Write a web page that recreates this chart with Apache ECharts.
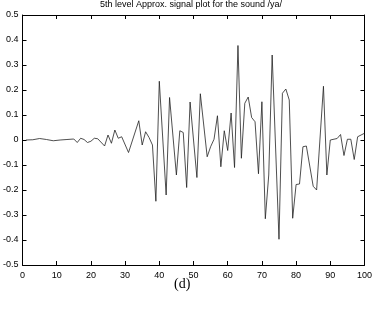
<!DOCTYPE html>
<html>
<head>
<meta charset="utf-8">
<script src="https://cdn.jsdelivr.net/npm/echarts@6/dist/echarts.min.js"></script>
<style>html,body{margin:0;padding:0;background:#fff;}#c{width:375px;height:318px;}</style>
</head>
<body>
<div id="c"></div>
<script>
const titleText = "5th level Approx. signal plot for the sound /ya/";
const captionText = "(d)";
const xTicks = [0, 10, 20, 30, 40, 50, 60, 70, 80, 90, 100];
const yTicks = [-0.5, -0.4, -0.3, -0.2, -0.1, 0, 0.1, 0.2, 0.3, 0.4, 0.5];
const sampleX = [1, 3, 5, 7, 9, 11, 13, 15, 16, 17, 18, 19, 20, 21, 22, 24, 25, 26, 27, 28, 29, 31, 34, 35, 36, 37, 38, 39, 40, 42, 43, 45, 46, 47, 48, 49, 51, 52, 54, 55, 56, 57, 58, 59, 60, 61, 62, 63, 64, 65, 66, 67, 68, 69, 70, 71, 72, 73, 75, 76, 77, 78, 79, 80, 81, 82, 83, 85, 86, 88, 89, 90, 92, 93, 94, 95, 96, 97, 98, 99, 100];
const sampleY = [0, 0.001, 0.006, 0.002, -0.003, 0, 0.002, 0.004, -0.01, 0.007, 0.002, -0.01, -0.005, 0.007, 0.005, -0.024, 0.02, -0.013, 0.04, 0.007, 0.013, -0.05, 0.077, -0.02, 0.033, 0.01, -0.02, -0.245, 0.235, -0.22, 0.17, -0.14, 0.037, 0.03, -0.19, 0.152, -0.15, 0.185, -0.067, -0.027, 0.003, 0.097, -0.107, 0.037, -0.042, 0.108, -0.11, 0.378, -0.073, 0.147, 0.172, 0.09, 0.073, -0.135, 0.153, -0.315, -0.14, 0.34, -0.397, 0.187, 0.204, 0.16, -0.313, -0.178, -0.176, -0.027, -0.024, -0.185, -0.2, 0.215, -0.14, 0, 0.006, 0.022, -0.062, 0.003, 0.003, -0.078, 0.013, 0.02, 0.027];

const chart = echarts.init(document.getElementById('c'), null, {renderer: 'canvas'});
const lineData = sampleX.map((x, i) => [x, sampleY[i]]);
const fmtY = v => parseFloat(v.toFixed(1)).toString();
const labelFont = {fontFamily: 'Liberation Sans, Arial, sans-serif', fontSize: 9, color: '#000'};
function axisCommon() {
  return {
    axisLine: {show: true, onZero: false, lineStyle: {color: '#000', width: 1}},
    axisTick: {show: true, inside: true, length: 4, lineStyle: {color: '#000', width: 1}},
    splitLine: {show: false}
  };
}
chart.setOption({
  animation: false,
  backgroundColor: '#fff',
  title: {
    text: titleText, left: 191, top: 0, padding: 0, textAlign: 'center',
    textStyle: {fontFamily: 'Liberation Sans, Arial, sans-serif', fontSize: 9, fontWeight: 'normal', color: '#000'}
  },
  grid: {left: 21, right: 8, top: 15, bottom: 53},
  xAxis: [
    Object.assign({type: 'value', min: xTicks[0], max: xTicks[xTicks.length - 1], interval: 10, position: 'bottom',
      axisLabel: Object.assign({margin: 6}, labelFont)}, axisCommon()),
    Object.assign({type: 'value', min: xTicks[0], max: xTicks[xTicks.length - 1], interval: 10, position: 'top',
      axisLabel: {show: false}}, axisCommon())
  ],
  yAxis: [
    Object.assign({type: 'value', min: yTicks[0], max: yTicks[yTicks.length - 1], interval: 0.1, position: 'left',
      axisLabel: Object.assign({margin: 4, formatter: fmtY}, labelFont)}, axisCommon()),
    Object.assign({type: 'value', min: yTicks[0], max: yTicks[yTicks.length - 1], interval: 0.1, position: 'right',
      axisLabel: {show: false}}, axisCommon())
  ],
  series: [{
    type: 'line', data: lineData, xAxisIndex: 0, yAxisIndex: 0,
    showSymbol: false, symbol: 'none',
    lineStyle: {color: '#222', width: 0.8}
  }],
  graphic: [{
    type: 'text', left: 174, top: 277,
    style: {text: captionText, font: '14px "Liberation Serif", "Times New Roman", serif', fill: '#000'}
  }]
});
</script>
</body>
</html>
